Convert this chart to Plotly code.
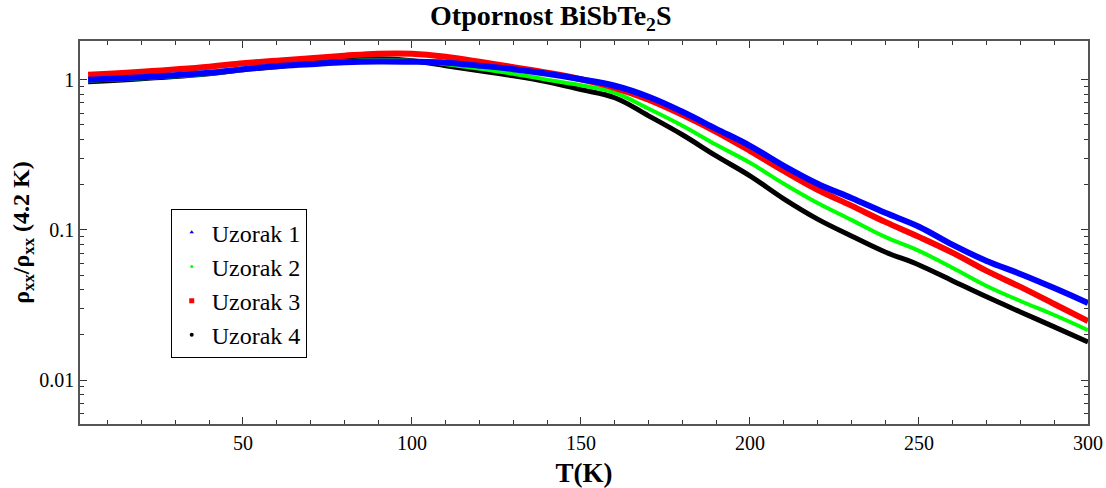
import plotly.graph_objects as go

T = [4.2, 20, 40, 50, 60, 70, 80, 90, 100, 110, 120, 130, 140, 150, 160, 170,
     180, 190, 200, 210, 220, 230, 240, 250, 260, 270, 280, 290, 300]

uzorak1 = [1.000, 1.039, 1.113, 1.175, 1.230, 1.269, 1.308, 1.324, 1.318, 1.298, 1.240,
           1.175, 1.096, 1.008, 0.912, 0.770, 0.612, 0.471, 0.363, 0.267, 0.203, 0.163,
           0.130, 0.105, 0.0794, 0.0621, 0.0509, 0.0410, 0.0326]
uzorak2 = [0.985, 1.023, 1.096, 1.166, 1.221, 1.279, 1.328, 1.349, 1.339, 1.269, 1.184,
           1.096, 1.000, 0.919, 0.819, 0.641, 0.494, 0.369, 0.280, 0.203, 0.151, 0.1166,
           0.0898, 0.0724, 0.0558, 0.0423, 0.0336, 0.0271, 0.0215]
uzorak3 = [1.080, 1.131, 1.221, 1.288, 1.339, 1.391, 1.445, 1.491, 1.491, 1.423, 1.318,
           1.212, 1.113, 1.008, 0.884, 0.736, 0.584, 0.450, 0.336, 0.247, 0.185, 0.145,
           0.113, 0.0898, 0.0703, 0.0533, 0.0417, 0.0321, 0.0247]
uzorak4 = [0.970, 1.015, 1.096, 1.166, 1.221, 1.298, 1.359, 1.380, 1.339, 1.240, 1.148,
           1.063, 0.970, 0.860, 0.759, 0.575, 0.430, 0.311, 0.229, 0.161, 0.118, 0.0912,
           0.0713, 0.0584, 0.0457, 0.0358, 0.0284, 0.0226, 0.0179]

names = ["Uzorak 1", "Uzorak 2", "Uzorak 3", "Uzorak 4"]
series = [uzorak1, uzorak2, uzorak3, uzorak4]

x_ticks = [50, 100, 150, 200, 250, 300]
y_ticks = [0.01, 0.1, 1]
y_tick_text = ["0.01", "0.1", "1"]
y_minor = [m * d for d in (0.001, 0.01, 0.1, 1) for m in range(2, 10)]

colors = ["#0000ff", "#00ff00", "#ff0000", "#000000"]
widths = [6, 4, 6, 5]
symbols = ["triangle-up", "circle", "square", "circle"]
msizes = [4, 3, 5, 4]

FONT = "Liberation Serif"

fig = go.Figure()
# draw order: black, green, red, blue (blue on top)
for i in [3, 1, 2, 0]:
    fig.add_trace(go.Scatter(x=T, y=series[i], mode="lines",
                             line=dict(color=colors[i], width=widths[i], shape="spline", smoothing=1.1),
                             showlegend=False, hoverinfo="skip"))
for i in range(4):
    fig.add_trace(go.Scatter(x=[None], y=[None], mode="markers", name=names[i],
                             marker=dict(color=colors[i], size=msizes[i], symbol=symbols[i])))

axis_common = dict(showgrid=False, zeroline=False, showline=True, linecolor="#555555",
                   linewidth=1.5, mirror="ticks", ticks="inside", tickcolor="#333333",
                   automargin=False,
                   tickfont=dict(family=FONT, size=20, color="#000"))

fig.update_xaxes(range=[1.8, 300], tickvals=x_ticks, ticklen=7,
                 minor=dict(ticks="inside", dtick=10, tick0=0, ticklen=4, tickcolor="#333333"),
                 title=dict(text="<b>T(K)</b>", font=dict(family=FONT, size=27, color="#000"), standoff=10),
                 **axis_common)
fig.update_yaxes(type="log", range=[-2.293, 0.258], tickvals=y_ticks,
                 ticktext=y_tick_text, ticklen=7,
                 minor=dict(ticks="inside", tickmode="array", tickvals=y_minor, ticklen=4,
                            tickcolor="#333333"),
                 title=dict(text="<b>ρ<sub>xx</sub>/ρ<sub>xx</sub> (4.2 K)</b>",
                            font=dict(family=FONT, size=24, color="#000"), standoff=3),
                 **axis_common)

fig.update_layout(
    width=1106, height=488,
    margin=dict(l=80, r=18, t=41, b=64, autoexpand=False),
    paper_bgcolor="white", plot_bgcolor="white",
    title=dict(text="<b>Otpornost BiSbTe<sub>2</sub>S</b>", x=0.498, xanchor="center",
               y=0.969, yanchor="middle", font=dict(family=FONT, size=28, color="#000")),
    legend=dict(x=0.090, y=0.561, xanchor="left", yanchor="top",
                bordercolor="#000", borderwidth=1, bgcolor="white",
                font=dict(family=FONT, size=24, color="#000"), itemwidth=30),
)

# remove the page's default body margin so the figure fills the window exactly
fig.write_html("out.html", config={"displayModeBar": False},
               post_script="document.body.style.margin='0px';document.body.style.overflow='hidden';")
